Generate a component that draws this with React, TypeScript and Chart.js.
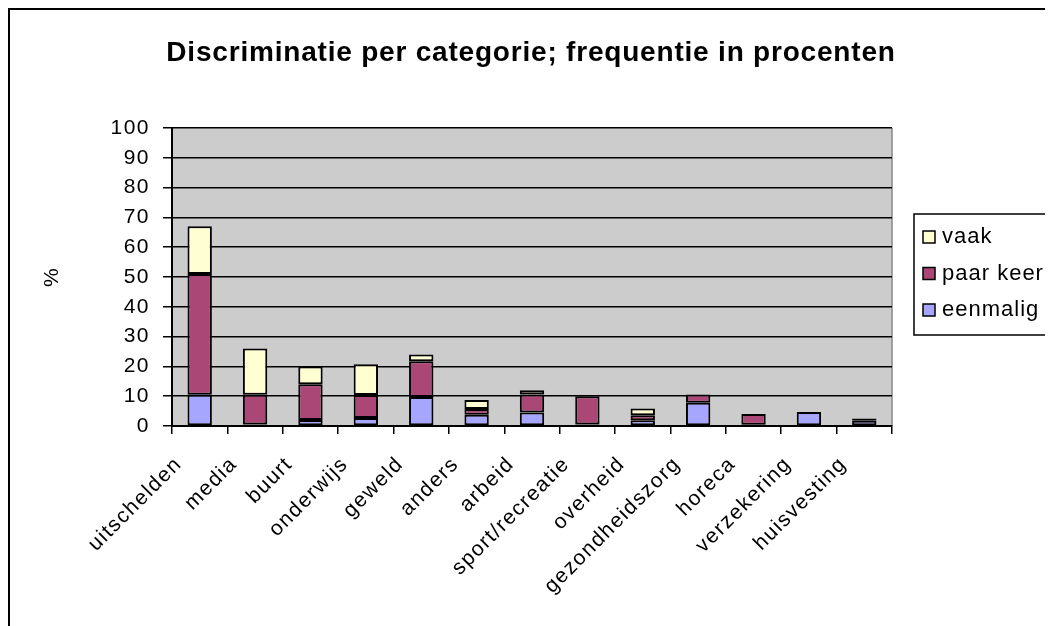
import React, { useEffect, useRef } from 'react';
import { Chart, registerables } from 'chart.js';

Chart.register(...registerables);

const chartTitle = 'Discriminatie per categorie; frequentie in procenten';
const yAxisTitle = '%';
const categories = [
  'uitschelden', 'media', 'buurt', 'onderwijs', 'geweld', 'anders', 'arbeid',
  'sport/recreatie', 'overheid', 'gezondheidszorg', 'horeca', 'verzekering', 'huisvesting',
];
const eenmalig = [10.5, 0.5, 2, 2.7, 9.7, 3.8, 4.5, 0.5, 1.9, 7.8, 0.4, 4.7, 1.8];
const paarKeer = [40.5, 10, 12, 7.7, 12, 1.9, 6.1, 9.5, 1.7, 2.8, 3.6, 0, 0.7];
const vaak = [16, 15.5, 6, 10.3, 2.3, 3, 1.4, 0, 2.3, 0, 0, 0, 0];
const yMin = 0;
const yMax = 100;
const yStep = 10;

const FONT = '"Liberation Sans", Arial, sans-serif';
const SPACING = '1.5px';

const framePlugin = {
  id: 'frame',
  beforeUpdate(chart: any) {
    chart.ctx.letterSpacing = SPACING;
  },
  beforeDraw(chart: any) {
    const { ctx, chartArea: a } = chart;
    ctx.save();
    ctx.fillStyle = '#ffffff';
    ctx.fillRect(0, 0, chart.width, chart.height);
    ctx.fillStyle = '#CCCCCC';
    ctx.fillRect(a.left, a.top, a.right - a.left, a.bottom - a.top);
    ctx.strokeStyle = '#888888';
    ctx.lineWidth = 1.5;
    ctx.beginPath();
    ctx.moveTo(a.right, a.top);
    ctx.lineTo(a.right, a.bottom);
    ctx.stroke();
    ctx.restore();
    ctx.letterSpacing = SPACING;
  },
  afterDraw(chart: any) {
    const { ctx } = chart;
    ctx.save();
    // outer frame
    ctx.strokeStyle = '#000';
    ctx.lineWidth = 2;
    ctx.beginPath();
    ctx.moveTo(1, chart.height);
    ctx.lineTo(1, 1);
    ctx.lineTo(chart.width, 1);
    ctx.stroke();
    // title
    ctx.letterSpacing = '0.8px';
    ctx.fillStyle = '#000';
    ctx.font = `bold 28px ${FONT}`;
    ctx.textAlign = 'center';
    ctx.textBaseline = 'alphabetic';
    ctx.fillText(chartTitle, 523, 53);
    // legend
    ctx.letterSpacing = '1px';
    const lx = 906, ly = 206, lh = 121;
    ctx.fillStyle = '#fff';
    ctx.fillRect(lx, ly, chart.width - lx + 5, lh);
    ctx.lineWidth = 1.5;
    ctx.strokeStyle = '#000';
    ctx.strokeRect(lx, ly, chart.width - lx + 5, lh);
    const ds = chart.data.datasets.slice().reverse();
    ctx.font = `22px ${FONT}`;
    ctx.textAlign = 'left';
    ctx.textBaseline = 'middle';
    ds.forEach((d: any, i: number) => {
      const cy = ly + 23 + i * 36.5;
      ctx.fillStyle = d.backgroundColor;
      ctx.fillRect(915, cy - 6, 12, 12);
      ctx.lineWidth = 1.5;
      ctx.strokeRect(915, cy - 6, 12, 12);
      ctx.fillStyle = '#000';
      ctx.fillText(d.label, 934, cy);
    });
    ctx.restore();
  },
};

export default function App() {
  const ref = useRef<HTMLCanvasElement>(null);
  useEffect(() => {
    if (!ref.current) return;
    const common = { borderColor: '#000', borderWidth: 2, borderSkipped: false, barPercentage: 0.44, categoryPercentage: 1 };
    const chart = new Chart(ref.current, {
      type: 'bar',
      data: {
        labels: categories,
        datasets: [
          { label: 'eenmalig', data: eenmalig, backgroundColor: '#A6A6FF', ...common },
          { label: 'paar keer', data: paarKeer, backgroundColor: '#AA4777', ...common },
          { label: 'vaak', data: vaak, backgroundColor: '#FFFFD2', ...common },
        ],
      },
      options: {
        animation: false,
        responsive: false,
        layout: { padding: { top: 120, right: 161, left: 0, bottom: 0 } },
        plugins: { legend: { display: false }, title: { display: false }, tooltip: { enabled: false } },
        scales: {
          x: {
            stacked: true,
            afterFit: (s: any) => { s.height = 200; },
            grid: { drawOnChartArea: false, drawTicks: true, tickLength: 8, tickColor: '#000', lineWidth: 1.5, offset: true },
            border: { display: true, color: '#000', width: 2 },
            ticks: { color: '#000', font: { family: FONT, size: 21 }, minRotation: 45, maxRotation: 45, autoSkip: false, padding: 18, labelOffset: -21 },
          },
          y: {
            stacked: true,
            min: yMin,
            max: yMax,
            afterFit: (s: any) => { s.width = 164; },
            grid: { color: '#000', lineWidth: 1.5, tickLength: 9, tickColor: '#000' },
            border: { display: true, color: '#000', width: 2 },
            ticks: { stepSize: yStep, color: '#000', font: { family: FONT, size: 21 }, padding: 13 },
            title: { display: true, text: yAxisTitle, color: '#000', font: { family: FONT, size: 21 }, padding: { top: 32, bottom: 0 } },
          },
        },
      },
      plugins: [framePlugin],
    });
    return () => chart.destroy();
  }, []);
  return (
    <div style={{ width: 1045, height: 618 }}>
      <canvas ref={ref} width={1045} height={618} style={{ display: 'block', width: 1045, height: 618 }} />
    </div>
  );
}
